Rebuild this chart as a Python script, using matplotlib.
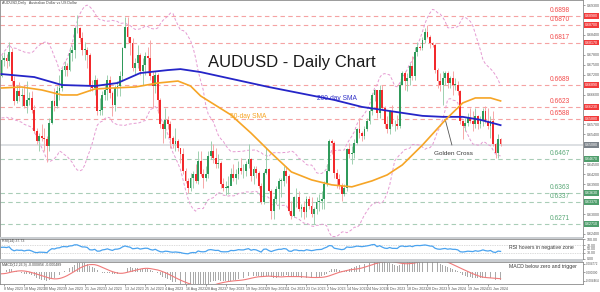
import numpy as np
import pandas as pd
import matplotlib
matplotlib.use("Agg")
import matplotlib.pyplot as plt
from matplotlib.transforms import blended_transform_factory

plt.rcParams['font.family'] = ['Liberation Sans', 'DejaVu Sans']

# ---- data ----
dates = pd.bdate_range("2023-05-05", "2024-02-07")

first_open = 0.6715
closes = [
    0.6765, 0.6770, 0.6760, 0.6790, 0.6700, 0.6640, 0.6670, 0.6655, 0.6660, 0.6625,
    0.6645, 0.6650, 0.6615, 0.6550, 0.6520, 0.6535, 0.6530, 0.6525, 0.6505, 0.6575,
    0.6640, 0.6625, 0.6670, 0.6680, 0.6735, 0.6745, 0.6735, 0.6785, 0.6795, 0.6860,
    0.6860, 0.6830, 0.6795, 0.6795, 0.6780, 0.6690, 0.6680, 0.6705, 0.6610, 0.6615,
    0.6660, 0.6675, 0.6705, 0.6665, 0.6630, 0.6680, 0.6685, 0.6715, 0.6800, 0.6865,
    0.6835, 0.6815, 0.6740, 0.6755, 0.6780, 0.6730, 0.6750, 0.6775, 0.6770, 0.6715,
    0.6685, 0.6720, 0.6645, 0.6570, 0.6555, 0.6585, 0.6570, 0.6530, 0.6510, 0.6520,
    0.6500, 0.6480, 0.6430, 0.6400, 0.6380, 0.6410, 0.6420, 0.6400, 0.6460, 0.6420,
    0.6410, 0.6420, 0.6475, 0.6490, 0.6470, 0.6450, 0.6455, 0.6390, 0.6380, 0.6380,
    0.6385, 0.6420, 0.6410, 0.6420, 0.6440, 0.6430, 0.6430, 0.6450, 0.6465, 0.6415,
    0.6435, 0.6425, 0.6385, 0.6335, 0.6425, 0.6435, 0.6370, 0.6310, 0.6345, 0.6375,
    0.6400, 0.6400, 0.6430, 0.6415, 0.6310, 0.6295, 0.6350, 0.6350, 0.6315, 0.6320,
    0.6305, 0.6345, 0.6325, 0.6300, 0.6315, 0.6335, 0.6340, 0.6345, 0.6390, 0.6430,
    0.6520, 0.6515, 0.6425, 0.6405, 0.6385, 0.6360, 0.6380, 0.6495, 0.6480, 0.6485,
    0.6515, 0.6555, 0.6545, 0.6535, 0.6555, 0.6580, 0.6610, 0.6660, 0.6675, 0.6605,
    0.6675, 0.6620, 0.6570, 0.6555, 0.6610, 0.6570, 0.6570, 0.6565, 0.6690, 0.6725,
    0.6700, 0.6710, 0.6745, 0.6715, 0.6790, 0.6805, 0.6800, 0.6825, 0.6850, 0.6835,
    0.6815, 0.6810, 0.6735, 0.6700, 0.6690, 0.6710, 0.6725, 0.6695, 0.6710, 0.6690,
    0.6690, 0.6670, 0.6580, 0.6565, 0.6575, 0.6590, 0.6580, 0.6570, 0.6595, 0.6570,
    0.6585, 0.6610, 0.6580, 0.6565, 0.6580, 0.6510, 0.6485, 0.6525, 0.6510,
]
highs = [
    0.6778, 0.6790, 0.6782, 0.6818, 0.6800, 0.6715, 0.6690, 0.6697, 0.6680, 0.6690,
    0.6700, 0.6668, 0.6670, 0.6630, 0.6560, 0.6545, 0.6570, 0.6560, 0.6535, 0.6590,
    0.6645, 0.6680, 0.6685, 0.6720, 0.6740, 0.6760, 0.6755, 0.6805, 0.6810, 0.6865,
    0.6900, 0.6865, 0.6850, 0.6820, 0.6805, 0.6785, 0.6705, 0.6720, 0.6710, 0.6650,
    0.6670, 0.6690, 0.6720, 0.6715, 0.6670, 0.6690, 0.6700, 0.6730, 0.6805, 0.6895,
    0.6895, 0.6835, 0.6830, 0.6770, 0.6810, 0.6785, 0.6770, 0.6790, 0.6805, 0.6825,
    0.6730, 0.6730, 0.6725, 0.6650, 0.6580, 0.6620, 0.6595, 0.6580, 0.6535, 0.6560,
    0.6525, 0.6495, 0.6500, 0.6440, 0.6410, 0.6425, 0.6430, 0.6450, 0.6490, 0.6490,
    0.6435, 0.6445, 0.6490, 0.6520, 0.6510, 0.6500, 0.6480, 0.6460, 0.6410, 0.6400,
    0.6415, 0.6440, 0.6450, 0.6435, 0.6460, 0.6470, 0.6450, 0.6460, 0.6510, 0.6470,
    0.6445, 0.6445, 0.6430, 0.6395, 0.6430, 0.6500, 0.6440, 0.6375, 0.6355, 0.6385,
    0.6410, 0.6410, 0.6445, 0.6445, 0.6420, 0.6340, 0.6355, 0.6380, 0.6370, 0.6330,
    0.6340, 0.6355, 0.6355, 0.6350, 0.6320, 0.6350, 0.6360, 0.6370, 0.6400, 0.6450,
    0.6525, 0.6525, 0.6520, 0.6435, 0.6420, 0.6395, 0.6390, 0.6500, 0.6515, 0.6505,
    0.6525, 0.6560, 0.6590, 0.6550, 0.6565, 0.6590, 0.6620, 0.6665, 0.6676, 0.6675,
    0.6690, 0.6690, 0.6625, 0.6595, 0.6615, 0.6630, 0.6585, 0.6600, 0.6700, 0.6730,
    0.6730, 0.6725, 0.6755, 0.6775, 0.6805, 0.6820, 0.6810, 0.6835, 0.6860, 0.6871,
    0.6840, 0.6820, 0.6815, 0.6740, 0.6725, 0.6730, 0.6730, 0.6730, 0.6715, 0.6730,
    0.6710, 0.6700, 0.6675, 0.6585, 0.6590, 0.6605, 0.6620, 0.6610, 0.6620, 0.6600,
    0.6595, 0.6620, 0.6625, 0.6620, 0.6595, 0.6610, 0.6515, 0.6540, 0.6530,
]
lows = [
    0.6712, 0.6745, 0.6740, 0.6745, 0.6688, 0.6630, 0.6635, 0.6640, 0.6625, 0.6620,
    0.6605, 0.6630, 0.6605, 0.6545, 0.6510, 0.6490, 0.6520, 0.6490, 0.6458, 0.6490,
    0.6570, 0.6610, 0.6620, 0.6645, 0.6670, 0.6715, 0.6715, 0.6730, 0.6760, 0.6770,
    0.6845, 0.6820, 0.6780, 0.6765, 0.6740, 0.6670, 0.6670, 0.6660, 0.6600, 0.6600,
    0.6600, 0.6645, 0.6645, 0.6650, 0.6595, 0.6610, 0.6655, 0.6655, 0.6700, 0.6800,
    0.6820, 0.6780, 0.6730, 0.6720, 0.6740, 0.6720, 0.6690, 0.6720, 0.6725, 0.6705,
    0.6620, 0.6665, 0.6605, 0.6560, 0.6515, 0.6530, 0.6555, 0.6500, 0.6500, 0.6490,
    0.6490, 0.6455, 0.6420, 0.6395, 0.6364, 0.6370, 0.6380, 0.6395, 0.6390, 0.6415,
    0.6380, 0.6400, 0.6410, 0.6465, 0.6455, 0.6440, 0.6440, 0.6380, 0.6370, 0.6357,
    0.6360, 0.6390, 0.6400, 0.6390, 0.6405, 0.6420, 0.6410, 0.6415, 0.6440, 0.6400,
    0.6390, 0.6410, 0.6380, 0.6330, 0.6330, 0.6420, 0.6365, 0.6285, 0.6285, 0.6330,
    0.6315, 0.6350, 0.6385, 0.6395, 0.6300, 0.6285, 0.6290, 0.6320, 0.6310, 0.6290,
    0.6285, 0.6290, 0.6315, 0.6290, 0.6270, 0.6300, 0.6310, 0.6315, 0.6315, 0.6385,
    0.6430, 0.6480, 0.6410, 0.6380, 0.6375, 0.6340, 0.6355, 0.6370, 0.6470, 0.6450,
    0.6470, 0.6510, 0.6530, 0.6520, 0.6525, 0.6550, 0.6570, 0.6600, 0.6640, 0.6590,
    0.6590, 0.6615, 0.6560, 0.6545, 0.6540, 0.6565, 0.6550, 0.6555, 0.6560, 0.6690,
    0.6675, 0.6670, 0.6690, 0.6705, 0.6705, 0.6775, 0.6795, 0.6795, 0.6815, 0.6830,
    0.6800, 0.6805, 0.6725, 0.6680, 0.6670, 0.6630, 0.6690, 0.6680, 0.6680, 0.6660,
    0.6675, 0.6660, 0.6570, 0.6525, 0.6550, 0.6565, 0.6575, 0.6550, 0.6560, 0.6555,
    0.6560, 0.6565, 0.6575, 0.6555, 0.6530, 0.6505, 0.6468, 0.6470, 0.6505,
]
# closes of the weeks before the window, needed for the bands/oscillators
warmup_closes = [
    0.6680, 0.6670, 0.6650, 0.6660, 0.6700, 0.6775, 0.6710, 0.6700, 0.6735, 0.6700,
    0.6730, 0.6690, 0.6690, 0.6645, 0.6605, 0.6615, 0.6615, 0.6640, 0.6650, 0.6690,
    0.6715,
]

sma50_dates = ["2023-05-05", "2023-05-17", "2023-05-29", "2023-06-08", "2023-06-16",
               "2023-06-27", "2023-07-06", "2023-07-19", "2023-08-01", "2023-08-11",
               "2023-08-18", "2023-08-24", "2023-09-11", "2023-09-21", "2023-10-03",
               "2023-10-13", "2023-10-25", "2023-11-06", "2023-11-16", "2023-11-28",
               "2023-12-06", "2023-12-14", "2023-12-26", "2024-01-08", "2024-01-17",
               "2024-01-24", "2024-02-01", "2024-02-07"]
sma50_vals = [0.6680, 0.6683, 0.6674, 0.6659, 0.6659, 0.6677, 0.6680, 0.6683, 0.6695,
              0.6701, 0.6686, 0.6656, 0.6599, 0.6544, 0.6484, 0.6427, 0.6403, 0.6388,
              0.6382, 0.6400, 0.6418, 0.6448, 0.6508, 0.6583, 0.6635, 0.6650, 0.6650,
              0.6641]
sma200_dates = ["2023-05-05", "2023-05-24", "2023-06-08", "2023-06-27", "2023-07-10",
                "2023-07-21", "2023-08-07", "2023-08-14", "2023-08-24", "2023-10-02",
                "2023-11-07", "2023-11-22", "2023-12-14", "2023-12-26", "2024-01-05",
                "2024-01-17", "2024-01-26", "2024-02-07"]
sma200_vals = [0.6722, 0.6713, 0.6689, 0.6686, 0.6695, 0.6725, 0.6734, 0.6737, 0.6728,
               0.6683, 0.6644, 0.6623, 0.6605, 0.6596, 0.6593, 0.6593, 0.6584, 0.6568]

red_levels = [0.6898, 0.6870, 0.6817, 0.6689, 0.6623, 0.6588]
green_levels = [0.6467, 0.6363, 0.6337, 0.6271]
last_price = 0.6508

# ---- colours ----
UP, DN = "#2f9a5a", "#f2292c"
UP_WICK, DN_WICK = "#9fd0b0", "#f6a8a8"
RED_LVL, GRN_LVL = "#f5a3a3", "#a9cdb7"
BAND = "#e59bd2"

W, H = 600, 292
fig = plt.figure(figsize=(W / 100, H / 100), dpi=100)
fig.patch.set_facecolor("white")


def frame(top, bottom, right=583):
    return [0.0, 1 - bottom / H, right / W, (bottom - top) / H]


ax = fig.add_axes(frame(0, 237))
ax_rsi = fig.add_axes(frame(239, 259))
ax_macd = fig.add_axes(frame(262, 284))

n = len(closes)
x = np.arange(n)
c = np.array(closes)
o = np.r_[first_open, c[:-1]]
hi = np.array(highs)
lo = np.array(lows)
up = c >= o

allc = pd.Series(np.r_[warmup_closes, closes])
k = len(warmup_closes)
mid = allc.rolling(20).mean()
sd = allc.rolling(20).std(ddof=0)
bb_up = (mid + 2 * sd).iloc[k:].values
bb_dn = (mid - 2 * sd).iloc[k:].values

XL = (-0.6, 230.7)
for a in (ax, ax_rsi, ax_macd):
    a.set_xlim(*XL)
    a.set_xticks([])
    for s in a.spines.values():
        s.set_color("#8a8a8a")
        s.set_linewidth(0.6)
    a.tick_params(axis="y", which="both", right=True, left=False, labelleft=False,
                  labelright=True, length=1.5, width=0.4, pad=1, labelsize=2.6,
                  colors="#555555")

# main price panel
ax.set_ylim(0.62308, 0.69453)
for lv in red_levels:
    ax.axhline(lv, color=RED_LVL, lw=0.8, dashes=(4, 3), zorder=1)
for lv in green_levels:
    ax.axhline(lv, color=GRN_LVL, lw=0.8, dashes=(4, 3), zorder=1)
ax.axhline(last_price, color="#d3d7db", lw=1.1, zorder=1)

ax.plot(x, bb_up, color=BAND, lw=0.7, dashes=(3, 2), zorder=2)
ax.plot(x, bb_dn, color=BAND, lw=0.7, dashes=(3, 2), zorder=2)

ax.vlines(x, lo, hi, colors=np.where(up, UP_WICK, DN_WICK), lw=0.7, zorder=3)
ax.bar(x, np.maximum(np.abs(c - o), 0.00012), bottom=np.minimum(o, c), width=0.72,
       color=np.where(up, UP, DN), lw=0, zorder=4)

i50 = dates.get_indexer(pd.to_datetime(sma50_dates))
i200 = dates.get_indexer(pd.to_datetime(sma200_dates))
ax.plot(i200, sma200_vals, color="#2525c8", lw=1.3, zorder=5)
ax.plot(i50, sma50_vals, color="#f6a526", lw=1.2, zorder=5)

# right price scale: plain ticks, hidden where a level box sits
boxed = red_levels + green_levels + [last_price]
ticks = [t for t in np.arange(0.6240, 0.6931, 0.003)
         if min(abs(t - b) for b in boxed) > 0.0013]
ax.set_yticks(ticks)
ax.set_yticklabels([f"{t:.5f}" for t in ticks])

txt_x = 550 / 583
tr = blended_transform_factory(ax.transAxes, ax.transData)
for lv in red_levels:
    ax.annotate(f"{lv:.4f}", (txt_x, lv), xycoords=tr, xytext=(0, 1.2),
                textcoords="offset points", color="#f24b4b", fontsize=4.8, va="bottom")
for lv in green_levels:
    ax.annotate(f"{lv:.4f}", (txt_x, lv), xycoords=tr, xytext=(0, 1.2),
                textcoords="offset points", color="#5aa877", fontsize=4.8, va="bottom")

ftr = blended_transform_factory(fig.transFigure, ax.transData)
for lv, col in [(v, "#f23a3a") for v in red_levels] + [(v, "#4f9e6c") for v in green_levels] \
        + [(last_price, "#7b8289")]:
    fig.text(585 / W, lv, f"{lv:.5f}", transform=ftr, fontsize=2.6, color="white",
             va="center", ha="left",
             bbox=dict(boxstyle="square,pad=0.25", fc=col, ec="none"))

ax.text(0.5, 0.738, "AUDUSD - Daily Chart", transform=ax.transAxes, fontsize=12,
        ha="center", va="center", color="#1a1a1a")
ax.text(337 / 583, 1 - 98 / 237, "200-day SMA", transform=ax.transAxes, fontsize=4.8,
        ha="center", va="center", color="#3434c8")
ax.text(248 / 583, 1 - 117 / 237, "50-day SMA", transform=ax.transAxes, fontsize=4.8,
        ha="center", va="center", color="#f6a526")
ax.annotate("Golden Cross", xy=(176, 0.6586), xytext=(454 / 583 * (XL[1] - XL[0]) + XL[0], 0.6484),
            fontsize=4.6, color="#3a3a3a", ha="center", va="center",
            arrowprops=dict(arrowstyle="-", color="#555555", lw=0.6, shrinkA=2, shrinkB=0))
ax.text(2 / 583, 1 - 3 / 237, "AUDUSD,Daily   Australian Dollar vs US Dollar",
        transform=ax.transAxes, fontsize=2.6, color="#444444", va="center")

# RSI panel
delta = allc.diff()
gain = delta.clip(lower=0).ewm(alpha=1 / 14, adjust=False).mean()
loss = (-delta.clip(upper=0)).ewm(alpha=1 / 14, adjust=False).mean()
rsi = (100 - 100 / (1 + gain / loss)).iloc[k:].values

ax_rsi.set_ylim(-2, 102)
ax_rsi.set_yticks([0, 30, 50, 70, 100])
ax_rsi.set_yticklabels(["0.00", "30.00", "50.00", "70.00", "100.00"])
for lv in (30, 70):
    ax_rsi.axhline(lv, color="#b8b8b8", lw=0.5, ls=(0, (1, 1.5)))
ax_rsi.plot(x, rsi, color="#4aa3ef", lw=0.9)
ax_rsi.text(2 / 583, 0.88, "RSI(14) 37.73", transform=ax_rsi.transAxes, fontsize=2.6,
            color="#444444", va="center")
ax_rsi.text(509 / 583, 0.55, "RSI hovers in negative zone", transform=ax_rsi.transAxes,
            fontsize=3.7, color="#3a3a3a", va="center")

# MACD panel
ema12 = allc.ewm(span=12, adjust=False).mean()
ema26 = allc.ewm(span=26, adjust=False).mean()
macd = ema12 - ema26
signal = macd.rolling(9, min_periods=1).mean()
macd_v = macd.iloc[k:].values
sig_v = signal.iloc[k:].values

ax_macd.set_ylim(-0.0062, 0.0056)
ax_macd.set_yticks([-0.004464, 0.0, 0.004772])
ax_macd.set_yticklabels(["-0.004464", "0.000000", "0.004772"])
ax_macd.tick_params(axis="y", labelsize=2.2, pad=0.6)
ax_macd.bar(x, macd_v, width=0.35, color="#a9a9a9", lw=0)
ax_macd.plot(x, sig_v, color="#f07a7a", lw=0.8)
ax_macd.text(2 / 583, 0.86, "MACD(12,26,9) -0.000856 -0.000489", transform=ax_macd.transAxes,
             fontsize=2.6, color="#444444", va="center")
ax_macd.text(509 / 583, 0.8, "MACD below zero and trigger", transform=ax_macd.transAxes,
             fontsize=3.7, color="#3a3a3a", va="center")

# date axis
lab_idx = np.arange(1, n, 8)
ax_macd.set_xticks(lab_idx)
ax_macd.set_xticklabels([f"{d.day} {d:%b %Y}" for d in dates[lab_idx]], fontsize=2.6,
                        color="#555555", ha="left")
ax_macd.tick_params(axis="x", length=1.5, width=0.4, pad=0.8, colors="#555555")

# panel separators
for top, bot in [(237, 239), (259, 262)]:
    fig.patches.append(plt.Rectangle((0, 1 - bot / H), 583 / W, (bot - top) / H,
                                     transform=fig.transFigure, fc="#c9cdd1", ec="none"))

fig.savefig("out.png", dpi=100)
